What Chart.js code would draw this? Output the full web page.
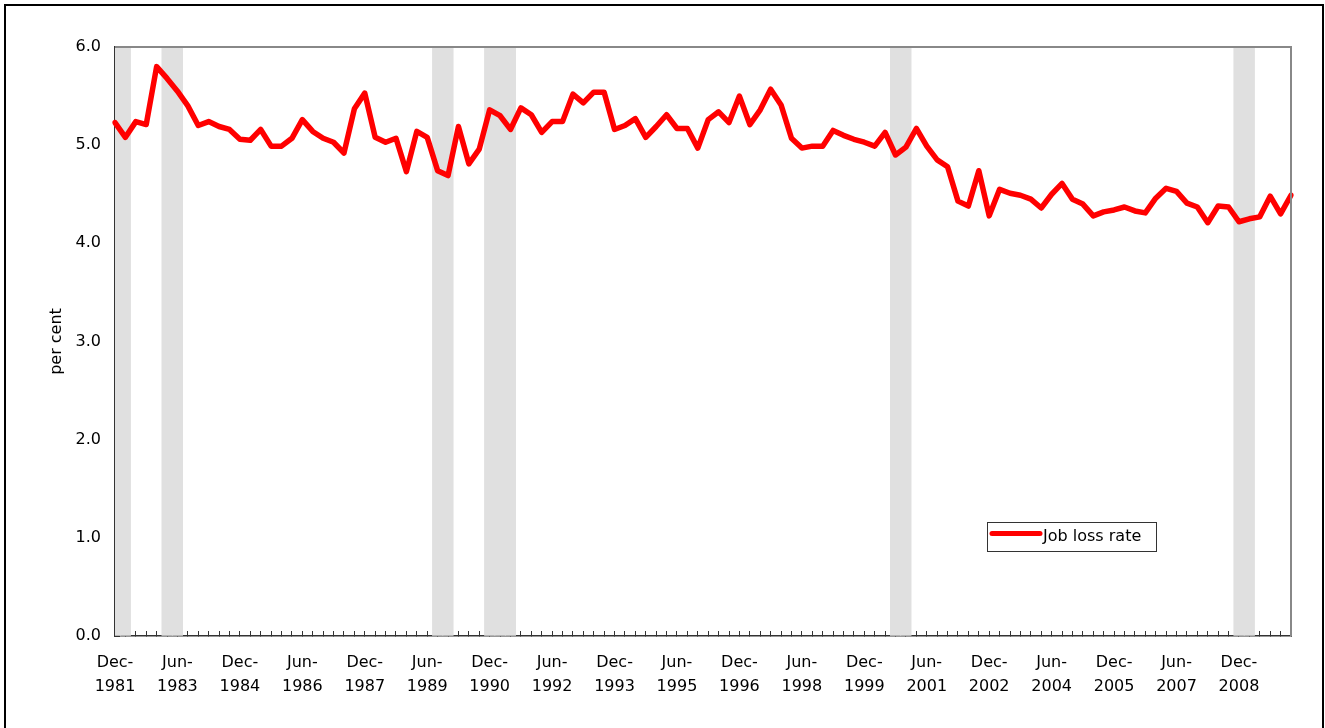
<!DOCTYPE html>
<html>
<head>
<meta charset="utf-8">
<style>
  html, body { margin: 0; padding: 0; background: #fff; }
  #wrap { width: 1325px; height: 728px; position: relative; }
</style>
<script src="https://cdn.jsdelivr.net/npm/chart.js@4/dist/chart.umd.min.js"></script>
</head>
<body>
<div id="wrap"><canvas id="c" width="1325" height="728"></canvas></div>
<script>
// ---- Data ----
const categories = [
  "Dec-1981",
  "Mar-1982","Jun-1982","Sep-1982","Dec-1982",
  "Mar-1983","Jun-1983","Sep-1983","Dec-1983",
  "Mar-1984","Jun-1984","Sep-1984","Dec-1984",
  "Mar-1985","Jun-1985","Sep-1985","Dec-1985",
  "Mar-1986","Jun-1986","Sep-1986","Dec-1986",
  "Mar-1987","Jun-1987","Sep-1987","Dec-1987",
  "Mar-1988","Jun-1988","Sep-1988","Dec-1988",
  "Mar-1989","Jun-1989","Sep-1989","Dec-1989",
  "Mar-1990","Jun-1990","Sep-1990","Dec-1990",
  "Mar-1991","Jun-1991","Sep-1991","Dec-1991",
  "Mar-1992","Jun-1992","Sep-1992","Dec-1992",
  "Mar-1993","Jun-1993","Sep-1993","Dec-1993",
  "Mar-1994","Jun-1994","Sep-1994","Dec-1994",
  "Mar-1995","Jun-1995","Sep-1995","Dec-1995",
  "Mar-1996","Jun-1996","Sep-1996","Dec-1996",
  "Mar-1997","Jun-1997","Sep-1997","Dec-1997",
  "Mar-1998","Jun-1998","Sep-1998","Dec-1998",
  "Mar-1999","Jun-1999","Sep-1999","Dec-1999",
  "Mar-2000","Jun-2000","Sep-2000","Dec-2000",
  "Mar-2001","Jun-2001","Sep-2001","Dec-2001",
  "Mar-2002","Jun-2002","Sep-2002","Dec-2002",
  "Mar-2003","Jun-2003","Sep-2003","Dec-2003",
  "Mar-2004","Jun-2004","Sep-2004","Dec-2004",
  "Mar-2005","Jun-2005","Sep-2005","Dec-2005",
  "Mar-2006","Jun-2006","Sep-2006","Dec-2006",
  "Mar-2007","Jun-2007","Sep-2007","Dec-2007",
  "Mar-2008","Jun-2008","Sep-2008","Dec-2008",
  "Mar-2009","Jun-2009","Sep-2009","Dec-2009",
  "Mar-2010"
];

const jobLossRate = [
  5.23, 5.08, 5.24, 5.21, 5.80, 5.68, 5.55, 5.40, 5.20, 5.24,
  5.19, 5.16, 5.06, 5.05, 5.16, 4.99, 4.99, 5.07, 5.26, 5.14,
  5.07, 5.03, 4.92, 5.37, 5.53, 5.08, 5.03, 5.07, 4.73, 5.14,
  5.08, 4.74, 4.69, 5.19, 4.81, 4.96, 5.36, 5.30, 5.16, 5.38,
  5.31, 5.13, 5.24, 5.24, 5.52, 5.43, 5.54, 5.54, 5.16, 5.20,
  5.27, 5.08, 5.19, 5.31, 5.17, 5.17, 4.97, 5.26, 5.34, 5.23,
  5.50, 5.21, 5.36, 5.57, 5.41, 5.07, 4.97, 4.99, 4.99, 5.15,
  5.10, 5.06, 5.03, 4.99, 5.13, 4.90, 4.98, 5.17, 4.99, 4.85,
  4.78, 4.43, 4.38, 4.74, 4.28, 4.55, 4.51, 4.49, 4.45, 4.36,
  4.50, 4.61, 4.45, 4.40, 4.28, 4.32, 4.34, 4.37, 4.33, 4.31,
  4.46, 4.56, 4.53, 4.41, 4.37, 4.21, 4.38, 4.37, 4.22, 4.25,
  4.27, 4.48, 4.30, 4.49
];

// Quarters shaded as recession periods
const recessionQuarters = [
  "Dec-1981","Mar-1982",
  "Mar-1983","Jun-1983",
  "Sep-1989","Dec-1989",
  "Dec-1990","Mar-1991","Jun-1991",
  "Sep-2000","Dec-2000",
  "Dec-2008","Mar-2009"
];

const tickLabels = [
  "Dec-1981","Jun-1983","Dec-1984","Jun-1986","Dec-1987","Jun-1989","Dec-1990",
  "Jun-1992","Dec-1993","Jun-1995","Dec-1996","Jun-1998","Dec-1999","Jun-2001",
  "Dec-2002","Jun-2004","Dec-2005","Jun-2007","Dec-2008"
];

const yTicks = [0, 1, 2, 3, 4, 5, 6];
const shadeTop = 6;

// ---- Chart ----
const FONT = "'DejaVu Sans', sans-serif";
const recessionSeries = categories.map(c => recessionQuarters.includes(c) ? shadeTop : null);

const framePlugin = {
  id: 'frame',
  beforeDraw(chart) {
    const ctx = chart.ctx;
    ctx.save();
    ctx.fillStyle = '#ffffff';
    ctx.fillRect(0, 0, chart.width, chart.height);
    ctx.restore();
  },
  afterDraw(chart) {
    const ctx = chart.ctx;
    const a = chart.chartArea;
    ctx.save();
    // outer border
    ctx.strokeStyle = '#000000';
    ctx.lineWidth = 2;
    ctx.strokeRect(5, 5, 1318, 740);
    // top & right plot frame
    ctx.strokeStyle = '#888888';
    ctx.lineWidth = 2;
    ctx.beginPath();
    ctx.moveTo(a.left, a.top);
    ctx.lineTo(a.right, a.top);
    ctx.lineTo(a.right, a.bottom);
    ctx.stroke();
    // legend
    const ds = chart.data.datasets[0];
    const bx = 987, by = 522, bw = 169, bh = 29;
    ctx.fillStyle = '#ffffff';
    ctx.fillRect(bx, by, bw, bh);
    ctx.strokeStyle = '#333333';
    ctx.lineWidth = 1;
    ctx.strokeRect(bx + 0.5, by + 0.5, bw, bh);
    ctx.strokeStyle = ds.borderColor;
    ctx.lineWidth = 5;
    ctx.lineCap = 'round';
    ctx.beginPath();
    ctx.moveTo(992, by + 11.5);
    ctx.lineTo(1040, by + 11.5);
    ctx.stroke();
    ctx.fillStyle = '#000000';
    ctx.font = '16px ' + FONT;
    ctx.textBaseline = 'middle';
    ctx.textAlign = 'left';
    ctx.fillText(ds.label, 1043, by + 15);
    ctx.restore();
  }
};

new Chart(document.getElementById('c'), {
  data: {
    labels: categories,
    datasets: [
      {
        type: 'line',
        label: 'Job loss rate',
        data: jobLossRate,
        borderColor: '#ff0000',
        borderWidth: 5.5,
        pointRadius: 0,
        tension: 0,
        borderJoinStyle: 'round',
        borderCapStyle: 'round',
        fill: false,
        order: 0
      },
      {
        type: 'bar',
        label: 'Recession',
        data: recessionSeries,
        backgroundColor: '#e0e0e0',
        borderWidth: 0,
        barPercentage: 1,
        categoryPercentage: 1,
        order: 1
      }
    ]
  },
  options: {
    responsive: false,
    devicePixelRatio: 1,
    animation: false,
    layout: { padding: { left: 0, top: 47, right: 34, bottom: 0 } },
    plugins: {
      legend: { display: false },
      tooltip: { enabled: false }
    },
    scales: {
      x: {
        type: 'category',
        offset: false,
        grid: {
          offset: false,
          drawOnChartArea: false,
          drawTicks: true,
          tickLength: -5,
          color: '#333333'
        },
        border: { color: '#333333', width: 1.5 },
        ticks: {
          autoSkip: false,
          maxRotation: 0,
          minRotation: 0,
          padding: 20,
          color: '#000000',
          font: { family: FONT, size: 16, lineHeight: 1.48 },
          callback: function(value, index) {
            const lab = categories[index];
            if (!tickLabels.includes(lab)) return '';
            const parts = lab.split('-');
            return [parts[0] + '-', parts[1]];
          }
        },
        afterFit: (s) => { s.height = 92; }
      },
      y: {
        min: 0,
        max: 6,
        grid: {
          drawOnChartArea: false,
          drawTicks: true,
          tickLength: -5,
          color: '#333333'
        },
        border: { color: '#333333', width: 1.5 },
        afterBuildTicks: (s) => { s.ticks = yTicks.map(v => ({ value: v })); },
        ticks: {
          padding: 19,
          color: '#000000',
          font: { family: FONT, size: 16 },
          callback: (v) => Number(v).toFixed(1)
        },
        title: {
          display: true,
          text: 'per cent',
          color: '#000000',
          font: { family: FONT, size: 16 },
          padding: { top: 47, bottom: 0 }
        },
        afterFit: (s) => { s.width = 115; }
      }
    }
  },
  plugins: [framePlugin]
});
</script>
</body>
</html>
